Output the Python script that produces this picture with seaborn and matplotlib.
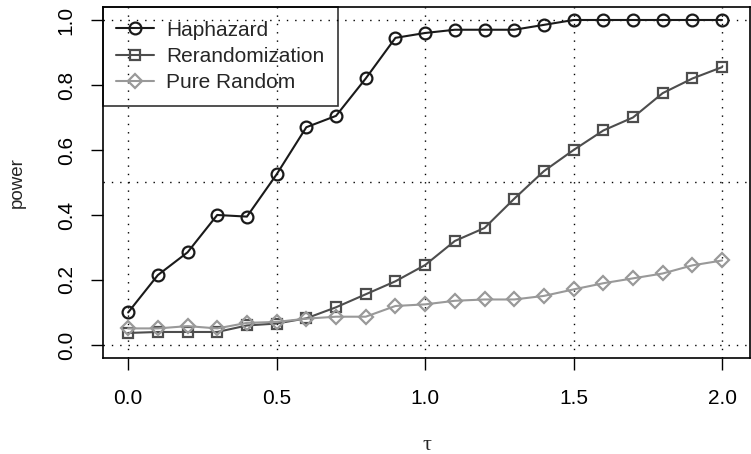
import seaborn as sns
import matplotlib.pyplot as plt
import pandas as pd

# Values
tau = [0.0, 0.1, 0.2, 0.3, 0.4, 0.5, 0.6, 0.7, 0.8, 0.9, 1.0,
       1.1, 1.2, 1.3, 1.4, 1.5, 1.6, 1.7, 1.8, 1.9, 2.0]
haphazard = [0.10, 0.215, 0.285, 0.40, 0.395, 0.525, 0.67, 0.705, 0.82, 0.945, 0.96,
             0.97, 0.97, 0.97, 0.985, 1.0, 1.0, 1.0, 1.0, 1.0, 1.0]
rerandomization = [0.037, 0.04, 0.04, 0.04, 0.06, 0.066, 0.082, 0.116, 0.156, 0.196, 0.246,
                   0.32, 0.36, 0.45, 0.535, 0.60, 0.66, 0.70, 0.775, 0.82, 0.855]
pure_random = [0.051, 0.051, 0.058, 0.051, 0.068, 0.071, 0.081, 0.087, 0.087, 0.12, 0.125,
               0.136, 0.14, 0.14, 0.151, 0.171, 0.19, 0.205, 0.22, 0.245, 0.26]

series_names = ['Haphazard', 'Rerandomization', 'Pure Random']
series_colors = ['#1a1a1a', '#4d4d4d', '#999999']
series_markers = ['o', 's', 'D']
series_sizes = [8.5, 6.5, 6.8]

df = pd.DataFrame({'tau': tau, 'Haphazard': haphazard,
                   'Rerandomization': rerandomization, 'Pure Random': pure_random})

sns.set_style('ticks')
plt.rcParams['font.family'] = ['Liberation Sans', 'DejaVu Sans']
plt.rcParams['font.size'] = 15

fig = plt.figure(figsize=(7.51, 4.54), dpi=100)
ax = fig.add_axes([0.137, 0.2115, 0.8617, 0.7731])

# dotted reference grid like the original
grid_style = (0, (1, 5))
for gx in [0.0, 0.5, 1.0, 1.5, 2.0]:
    ax.axvline(gx, color='black', linestyle=grid_style, linewidth=1, zorder=0)
for gy in [0.0, 0.5, 1.0]:
    ax.axhline(gy, color='black', linestyle=grid_style, linewidth=1, zorder=0)

for name, col, mk, ms in zip(series_names, series_colors, series_markers, series_sizes):
    sns.lineplot(data=df, x='tau', y=name, ax=ax, color=col, marker=mk,
                 markersize=ms, markerfacecolor='none', markeredgecolor=col,
                 markeredgewidth=1.6, linewidth=1.5, label=name)

ax.set_xlim(-0.085, 2.094)
ax.set_ylim(-0.04, 1.04)
ax.set_xticks([0.0, 0.5, 1.0, 1.5, 2.0])
ax.set_xticklabels(['0.0', '0.5', '1.0', '1.5', '2.0'])
ax.set_yticks([0.0, 0.2, 0.4, 0.6, 0.8, 1.0])
ax.set_yticklabels(['0.0', '0.2', '0.4', '0.6', '0.8', '1.0'], rotation=90, va='center')
ax.tick_params(axis='both', direction='out', length=8.5, width=1, colors='black')
ax.tick_params(axis='x', pad=14)
ax.tick_params(axis='y', pad=11)

for sp in ax.spines.values():
    sp.set_visible(True)
    sp.set_color('black')
    sp.set_linewidth(1.2)

ax.set_xlabel('τ', fontsize=16, labelpad=20, family=['Liberation Serif', 'DejaVu Serif'])
ax.set_ylabel('power', fontsize=13.5, labelpad=22)

# legend box is see-through in the original, grid shows inside it
leg = ax.legend(loc='upper left', borderaxespad=0, fancybox=False,
                edgecolor='black', handlelength=1.8, labelspacing=0.35,
                borderpad=0.65, handletextpad=0.6, fontsize=15)
leg.get_frame().set_linewidth(1.2)
leg.get_frame().set_facecolor('none')

plt.savefig('out.png', dpi=100)
